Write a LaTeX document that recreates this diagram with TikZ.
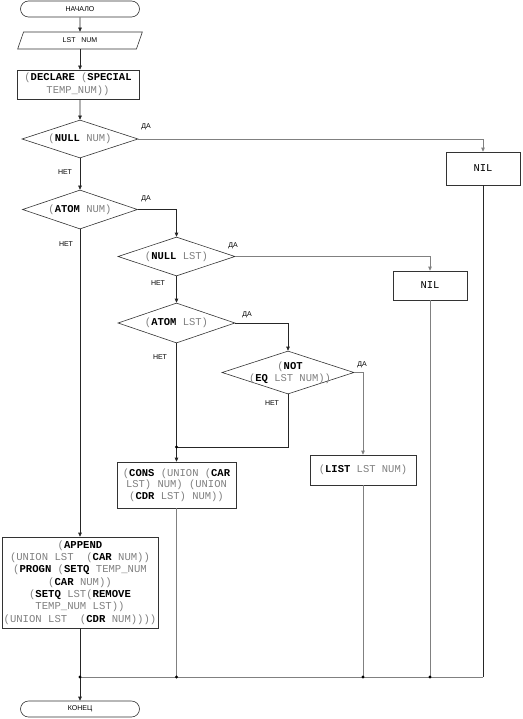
\documentclass[tikz,border=0pt]{standalone}
\usepackage{fontspec}
\setmainfont{Liberation Sans}
\newfontfamily\codefont{Liberation Mono}
\usetikzlibrary{shapes.geometric,shapes.misc,arrows.meta}
\definecolor{codegray}{gray}{0.5}
\newcommand{\kw}[1]{\textbf{\color{black}#1}}
\begin{document}
\begin{tikzpicture}[x=1pt,y=-1pt,
  term/.style={rounded rectangle, draw=black!80, line width=0.6pt, minimum width=119pt, minimum height=16pt, inner sep=0pt, font=\fontsize{7}{8}\selectfont},
  io/.style={trapezium, trapezium left angle=70, trapezium right angle=110, trapezium stretches=true, draw=black!80, line width=0.6pt, minimum width=125pt, minimum height=17pt, inner sep=0pt, font=\fontsize{7}{8}\selectfont},
  proc/.style={rectangle, draw=black!80, line width=0.6pt, inner sep=0pt, align=center, text=codegray, font=\codefont\fontsize{10.5}{12.5}\selectfont},
  dec/.style={diamond, aspect=3, draw=black!80, line width=0.6pt, inner sep=0pt, align=center, text=codegray, font=\codefont\fontsize{10.5}{12.5}\selectfont},
  lbl/.style={font=\fontsize{7}{8}\selectfont, inner sep=0pt},
  ln/.style={draw=black!85, line width=0.6pt},
  gln/.style={draw=black!50, line width=0.8pt},
  arr/.style={ln, -{Triangle[length=4pt,width=3.5pt]}},
  garr/.style={gln, -{Triangle[length=4pt,width=3.5pt]}},
  dot/.style={circle, fill=black, inner sep=0pt, minimum size=3.4pt}]
\useasboundingbox (0,0) rectangle (522,719);

\node[term] (start) at (80,9) {НАЧАЛО};
\node[io] (in) at (80,40.5) {LST\ \ \ NUM};
\node[proc, minimum width=122pt, minimum height=29pt] (decl) at (78,84.5) {(\kw{DECLARE} (\kw{SPECIAL}\\TEMP\_NUM))};
\node[dec, minimum width=116pt, minimum height=38pt] (d1) at (80,139) {(\kw{NULL} NUM)};
\node[dec, minimum width=115pt, minimum height=39pt] (d2) at (80,209.5) {(\kw{ATOM} NUM)};
\node[proc, text=black, minimum width=74pt, minimum height=33pt] (nil1) at (483,168.5) {NIL};
\node[dec, minimum width=117pt, minimum height=39pt] (d3) at (176.5,256.5) {(\kw{NULL} LST)};
\node[proc, text=black, minimum width=74pt, minimum height=29pt] (nil2) at (430,285.5) {NIL};
\node[dec, minimum width=117pt, minimum height=40pt] (d4) at (176.5,323) {(\kw{ATOM} LST)};
\node[dec, minimum width=132pt, minimum height=43pt] (d5) at (288,372.5) {};
\node[align=center, text=codegray, font=\codefont\fontsize{10.5}{12.5}\selectfont, inner sep=0pt] (d5t) at (290,373) {(\kw{NOT}\\(\kw{EQ} LST NUM))};
\node[proc, minimum width=119pt, minimum height=46pt, font=\codefont\fontsize{10.5}{11.5}\selectfont] (cons) at (176.5,485) {(\kw{CONS} (UNION (\kw{CAR}\\LST) NUM) (UNION\\(\kw{CDR} LST) NUM))};
\node[proc, minimum width=106pt, minimum height=30pt] (list) at (363,470) {(\kw{LIST} LST NUM)};
\node[proc, minimum width=156pt, minimum height=91pt, font=\codefont\fontsize{10.6}{12.3}\selectfont] (app) at (80,582.5) {(\kw{APPEND}\\(UNION LST\ \ (\kw{CAR} NUM))\\(\kw{PROGN} (\kw{SETQ} TEMP\_NUM\\(\kw{CAR} NUM))\\(\kw{SETQ} LST(\kw{REMOVE}\\TEMP\_NUM LST))\\(UNION LST\ \ (\kw{CDR} NUM))))};
\node[term] (end) at (80,709) {КОНЕЦ};

\node[lbl] (y1) at (146,127) {ДА};
\node[lbl] (n1) at (65,172) {НЕТ};
\node[lbl] (y2) at (146,199) {ДА};
\node[lbl] (n2) at (66,244) {НЕТ};
\node[lbl] (y3) at (233,246) {ДА};
\node[lbl] (n3) at (158,283) {НЕТ};
\node[lbl] (y4) at (247,315) {ДА};
\node[lbl] (n4) at (160,357) {НЕТ};
\node[lbl] (y5) at (362,365) {ДА};
\node[lbl] (n5) at (272,403) {НЕТ};

\coordinate (j1) at (176.5,447);
\coordinate (b1) at (80,677);
\coordinate (b2) at (176.5,677);
\coordinate (b3) at (363,677);
\coordinate (b4) at (430,677);
\coordinate (b5) at (483,677);

\draw[arr] (start) -- (in);
\draw[arr] (in.south) -- (in.south |- decl.north);
\draw[arr] (in.south |- decl.south) -- (d1.north);
\draw[garr] (d1.east) -| (nil1.north);
\draw[arr] (d1.south) -- (d2.north);
\draw[arr] (d2.east) -| (d3.north);
\draw[arr] (d2.south) -- (app.north);
\draw[garr] (d3.east) -| (nil2.north);
\draw[arr] (d3.south) -- (d4.north);
\draw[arr] (d4.east) -| (d5.north);
\draw[ln] (d4.south) -- (j1);
\draw[ln] (d5.south) |- (j1);
\draw[arr] (j1) -- (cons.north);
\draw[garr] (d5.east) -| (list.north);
\draw[gln] (cons.south) -- (b2);
\draw[gln] (list.south) -- (b3);
\draw[gln] (nil2.south) -- (b4);
\draw[ln] (nil1.south) -- (b5);
\draw[gln] (b5) -- (b1);
\draw[ln] (app.south) -- (b1);
\draw[arr] (b1) -- (end.north);

\node[dot] (dj1) at (j1) {};
\node[dot] (db1) at (b1) {};
\node[dot] (db2) at (b2) {};
\node[dot] (db3) at (b3) {};
\node[dot] (db4) at (b4) {};
\end{tikzpicture}
\end{document}
